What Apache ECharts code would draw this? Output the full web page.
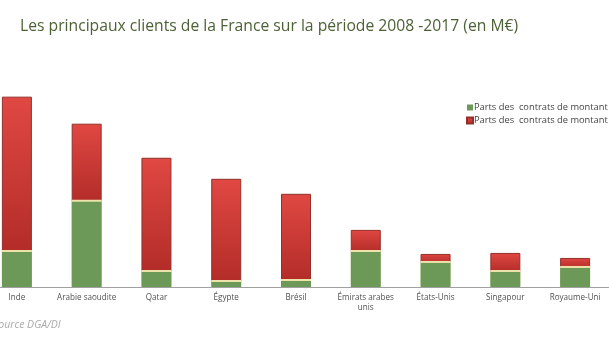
<!DOCTYPE html>
<html>
<head>
<meta charset="utf-8">
<script src="https://cdn.jsdelivr.net/npm/echarts@6/dist/echarts.min.js"></script>
<style>
  html, body { margin: 0; padding: 0; background: #fff; overflow: hidden; }
  /* the plot runs slightly past the left edge of the page */
  #chart { width: 628px; height: 343px; margin-left: -18px; }
</style>
</head>
<body>
<div id="chart"></div>
<script>
// Principaux clients de la France, 2008-2017, en M€
const categories = ['Inde', 'Arabie saoudite', 'Qatar', 'Égypte', 'Brésil',
  'Émirats arabes\nunis', 'États-Unis', 'Singapour', 'Royaume-Uni'];
// contrats de faible montant (vert)
const petitsContrats = [2450, 5950, 1050, 350, 420, 2450, 1680, 1050, 1330];
// contrats de montant élevé (rouge)
const grandsContrats = [10850, 5460, 7980, 7210, 6090, 1540, 630, 1330, 700];
const legendLabel = 'Parts des  contrats de montant';
const seriesNames = ['petits', 'grands'];

const chart = echarts.init(document.getElementById('chart'));
chart.setOption({
  animation: false,
  title: {
    text: 'Les principaux clients de la France sur la période 2008 -2017 (en M€)',
    left: 33,
    top: 14,
    textStyle: { fontFamily: 'Open Sans', fontSize: 15.7, fontWeight: 'normal', color: '#4c6035' }
  },
  graphic: [{
    type: 'text',
    left: 11,
    top: 320,
    style: { text: 'Source DGA/DI', fontFamily: 'Open Sans', fontStyle: 'italic', fontSize: 10.5, fill: '#aaaaaa' }
  }],
  legend: {
    data: seriesNames,
    orient: 'vertical',
    left: 479,
    top: 98,
    itemWidth: 6,
    itemHeight: 6,
    itemGap: 4,
    icon: 'rect',
    formatter: () => legendLabel,
    textStyle: { fontFamily: 'Open Sans', fontSize: 9.3, color: '#444', padding: [0, 0, 0, -4] }
  },
  grid: { left: 0, right: 0, top: 58, bottom: 56 },
  xAxis: {
    type: 'category',
    data: categories,
    axisTick: { show: false },
    axisLine: { lineStyle: { color: '#a0a0a0', width: 1 } },
    axisLabel: { interval: 0, margin: 6, fontFamily: 'Open Sans', fontSize: 8.1, color: '#505050', lineHeight: 10 }
  },
  yAxis: {
    type: 'value',
    min: 0,
    max: 16000,
    show: false,
    splitLine: { show: false }
  },
  series: [
    {
      name: seriesNames[0],
      type: 'bar',
      stack: 'total',
      barWidth: 30,
      z: 3,
      data: petitsContrats,
      // pale rim along the top of the green segment
      itemStyle: {
        color: '#6c9858',
        shadowColor: '#ece3aa',
        shadowBlur: 0,
        shadowOffsetY: -2
      }
    },
    {
      name: seriesNames[1],
      type: 'bar',
      stack: 'total',
      barWidth: 30,
      z: 2,
      data: grandsContrats,
      itemStyle: {
        color: new echarts.graphic.LinearGradient(0, 0, 0, 1, [
          { offset: 0, color: '#e04843' },
          { offset: 1, color: '#b32c28' }
        ]),
        borderColor: '#93302b',
        borderWidth: 1
      }
    }
  ]
});
</script>
</body>
</html>
